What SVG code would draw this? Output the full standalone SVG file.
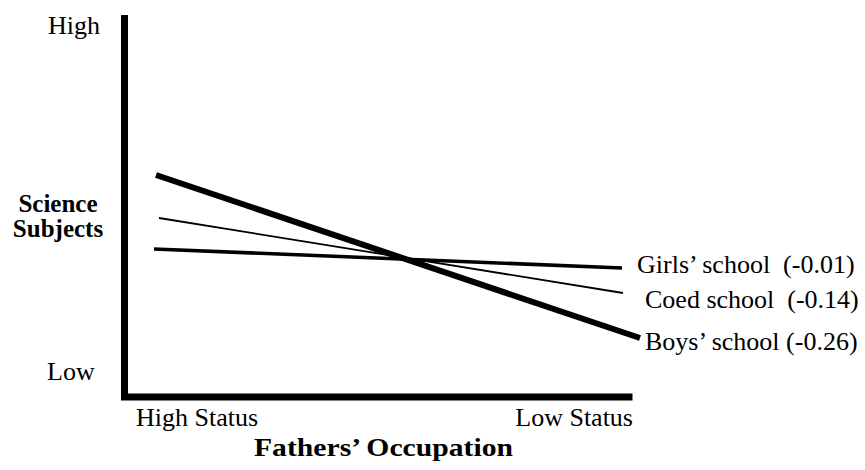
<svg xmlns="http://www.w3.org/2000/svg" width="865" height="470" viewBox="0 0 865 470">
<style>
text{font-family:"Liberation Serif","Times New Roman",serif;font-size:26px;fill:#000}
.b{font-weight:bold;font-size:25px}
.ax{stroke:#000;stroke-width:7;fill:none;stroke-linecap:square}
.ln{stroke:#000;fill:none}
</style>
<rect width="865" height="470" fill="#fff"/>
<g id="axes">
<path class="ax" d="M124.5,18.5 V397 H629"/>
<text x="100" y="34" text-anchor="end">High</text>
<text x="47" y="380">Low</text>
<text class="b" x="58" y="212" text-anchor="middle">Science</text>
<text class="b" x="58" y="237" text-anchor="middle">Subjects</text>
<text x="136" y="426">High Status</text>
<text x="633" y="426" text-anchor="end">Low Status</text>
<text class="b" x="254" y="456" style="font-size:26px" textLength="259" lengthAdjust="spacingAndGlyphs">Fathers’ Occupation</text>
</g>
<g id="connectors">
<line id="boys" class="ln" x1="156" y1="175" x2="640" y2="338" stroke-width="6"/>
<line id="coed" class="ln" x1="159" y1="218" x2="623" y2="293" stroke-width="1.8"/>
<line id="girls" class="ln" x1="154" y1="249" x2="622" y2="268" stroke-width="3.6"/>
</g>
<g id="labels">
<text x="637" y="273" xml:space="preserve">Girls’ school  (-0.01)</text>
<text x="645" y="308" xml:space="preserve">Coed school  (-0.14)</text>
<text x="645" y="350">Boys’ school (-0.26)</text>
</g>
</svg>
